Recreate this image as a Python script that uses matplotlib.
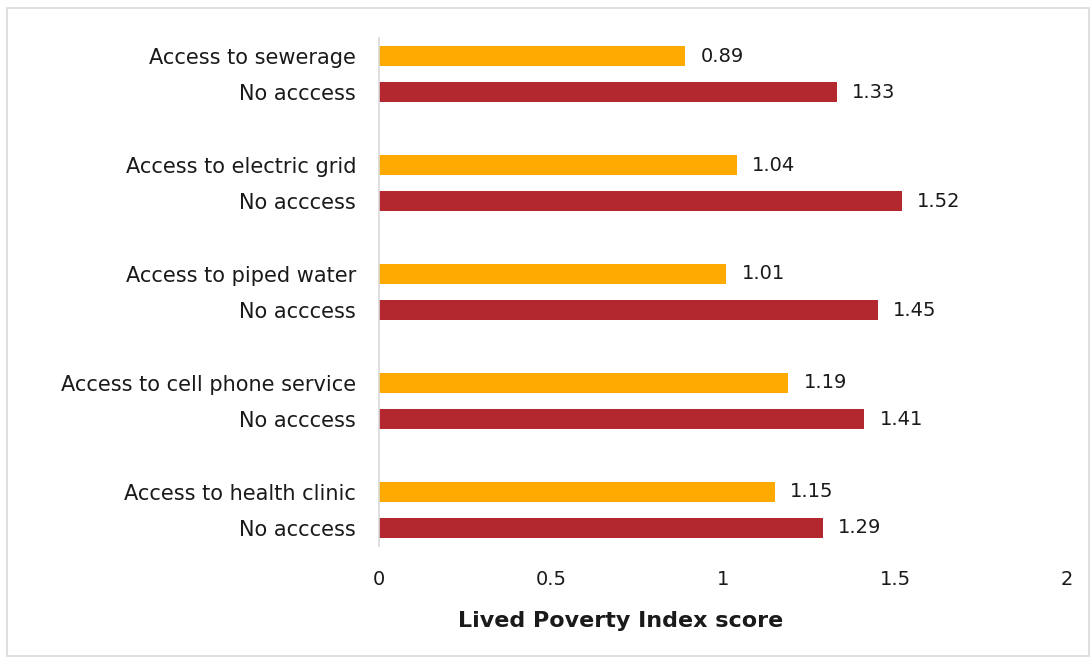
import numpy as np
import matplotlib.pyplot as plt
from matplotlib.patches import Rectangle

services = ["Access to sewerage", "Access to electric grid", "Access to piped water",
            "Access to cell phone service", "Access to health clinic"]
access = [0.89, 1.04, 1.01, 1.19, 1.15]
no_access = [1.33, 1.52, 1.45, 1.41, 1.29]
no_label = "No acccess"

plt.rcParams['font.family'] = ['DejaVu Sans']

fig = plt.figure(figsize=(10.9, 6.57), dpi=100)
ax = fig.add_axes([379/1090, (657-546)/657, 688/1090, 508/657])

# bar positions: group i -> orange at 3i, red at 3i+1
pos_a = np.arange(len(services)) * 3
pos_n = pos_a + 1

ax.barh(pos_a, access, height=0.55, color="#FFAA00")
ax.barh(pos_n, no_access, height=0.55, color="#B3282E")

for p, v in zip(pos_a, access):
    ax.text(v + 0.045, p, f"{v:.2f}", va="center", ha="left", fontsize=14, color="#1a1a1a")
for p, v in zip(pos_n, no_access):
    ax.text(v + 0.045, p, f"{v:.2f}", va="center", ha="left", fontsize=14, color="#1a1a1a")

yt = np.concatenate([pos_a, pos_n])
yl = services + [no_label] * len(services)
ax.set_yticks(yt)
ax.set_yticklabels(yl, fontsize=15, color="#1a1a1a")
ax.set_ylim(13.5, -0.5)
ax.set_xlim(0, 2)
ax.set_xticks([0, 0.5, 1, 1.5, 2])
ax.set_xticklabels(["0", "0.5", "1", "1.5", "2"], fontsize=14, color="#1a1a1a")
ax.tick_params(axis="y", length=0, pad=16.5)
ax.tick_params(axis="x", length=0, pad=17)

for s in ["top", "right", "bottom"]:
    ax.spines[s].set_visible(False)
ax.spines["left"].set_color("#D9D9D9")
ax.spines["left"].set_linewidth(1.2)

fig.text(621/1090, 1 - 621/657, "Lived Poverty Index score", ha="center", va="center",
         fontsize=16, fontweight="bold", color="#1a1a1a")

# chart border
fig.patches.append(Rectangle((7/1090, 1/657), 1082/1090, 648/657, transform=fig.transFigure,
                             fill=False, edgecolor="#D9D9D9", linewidth=1.2))

plt.savefig("out.png", dpi=100)
